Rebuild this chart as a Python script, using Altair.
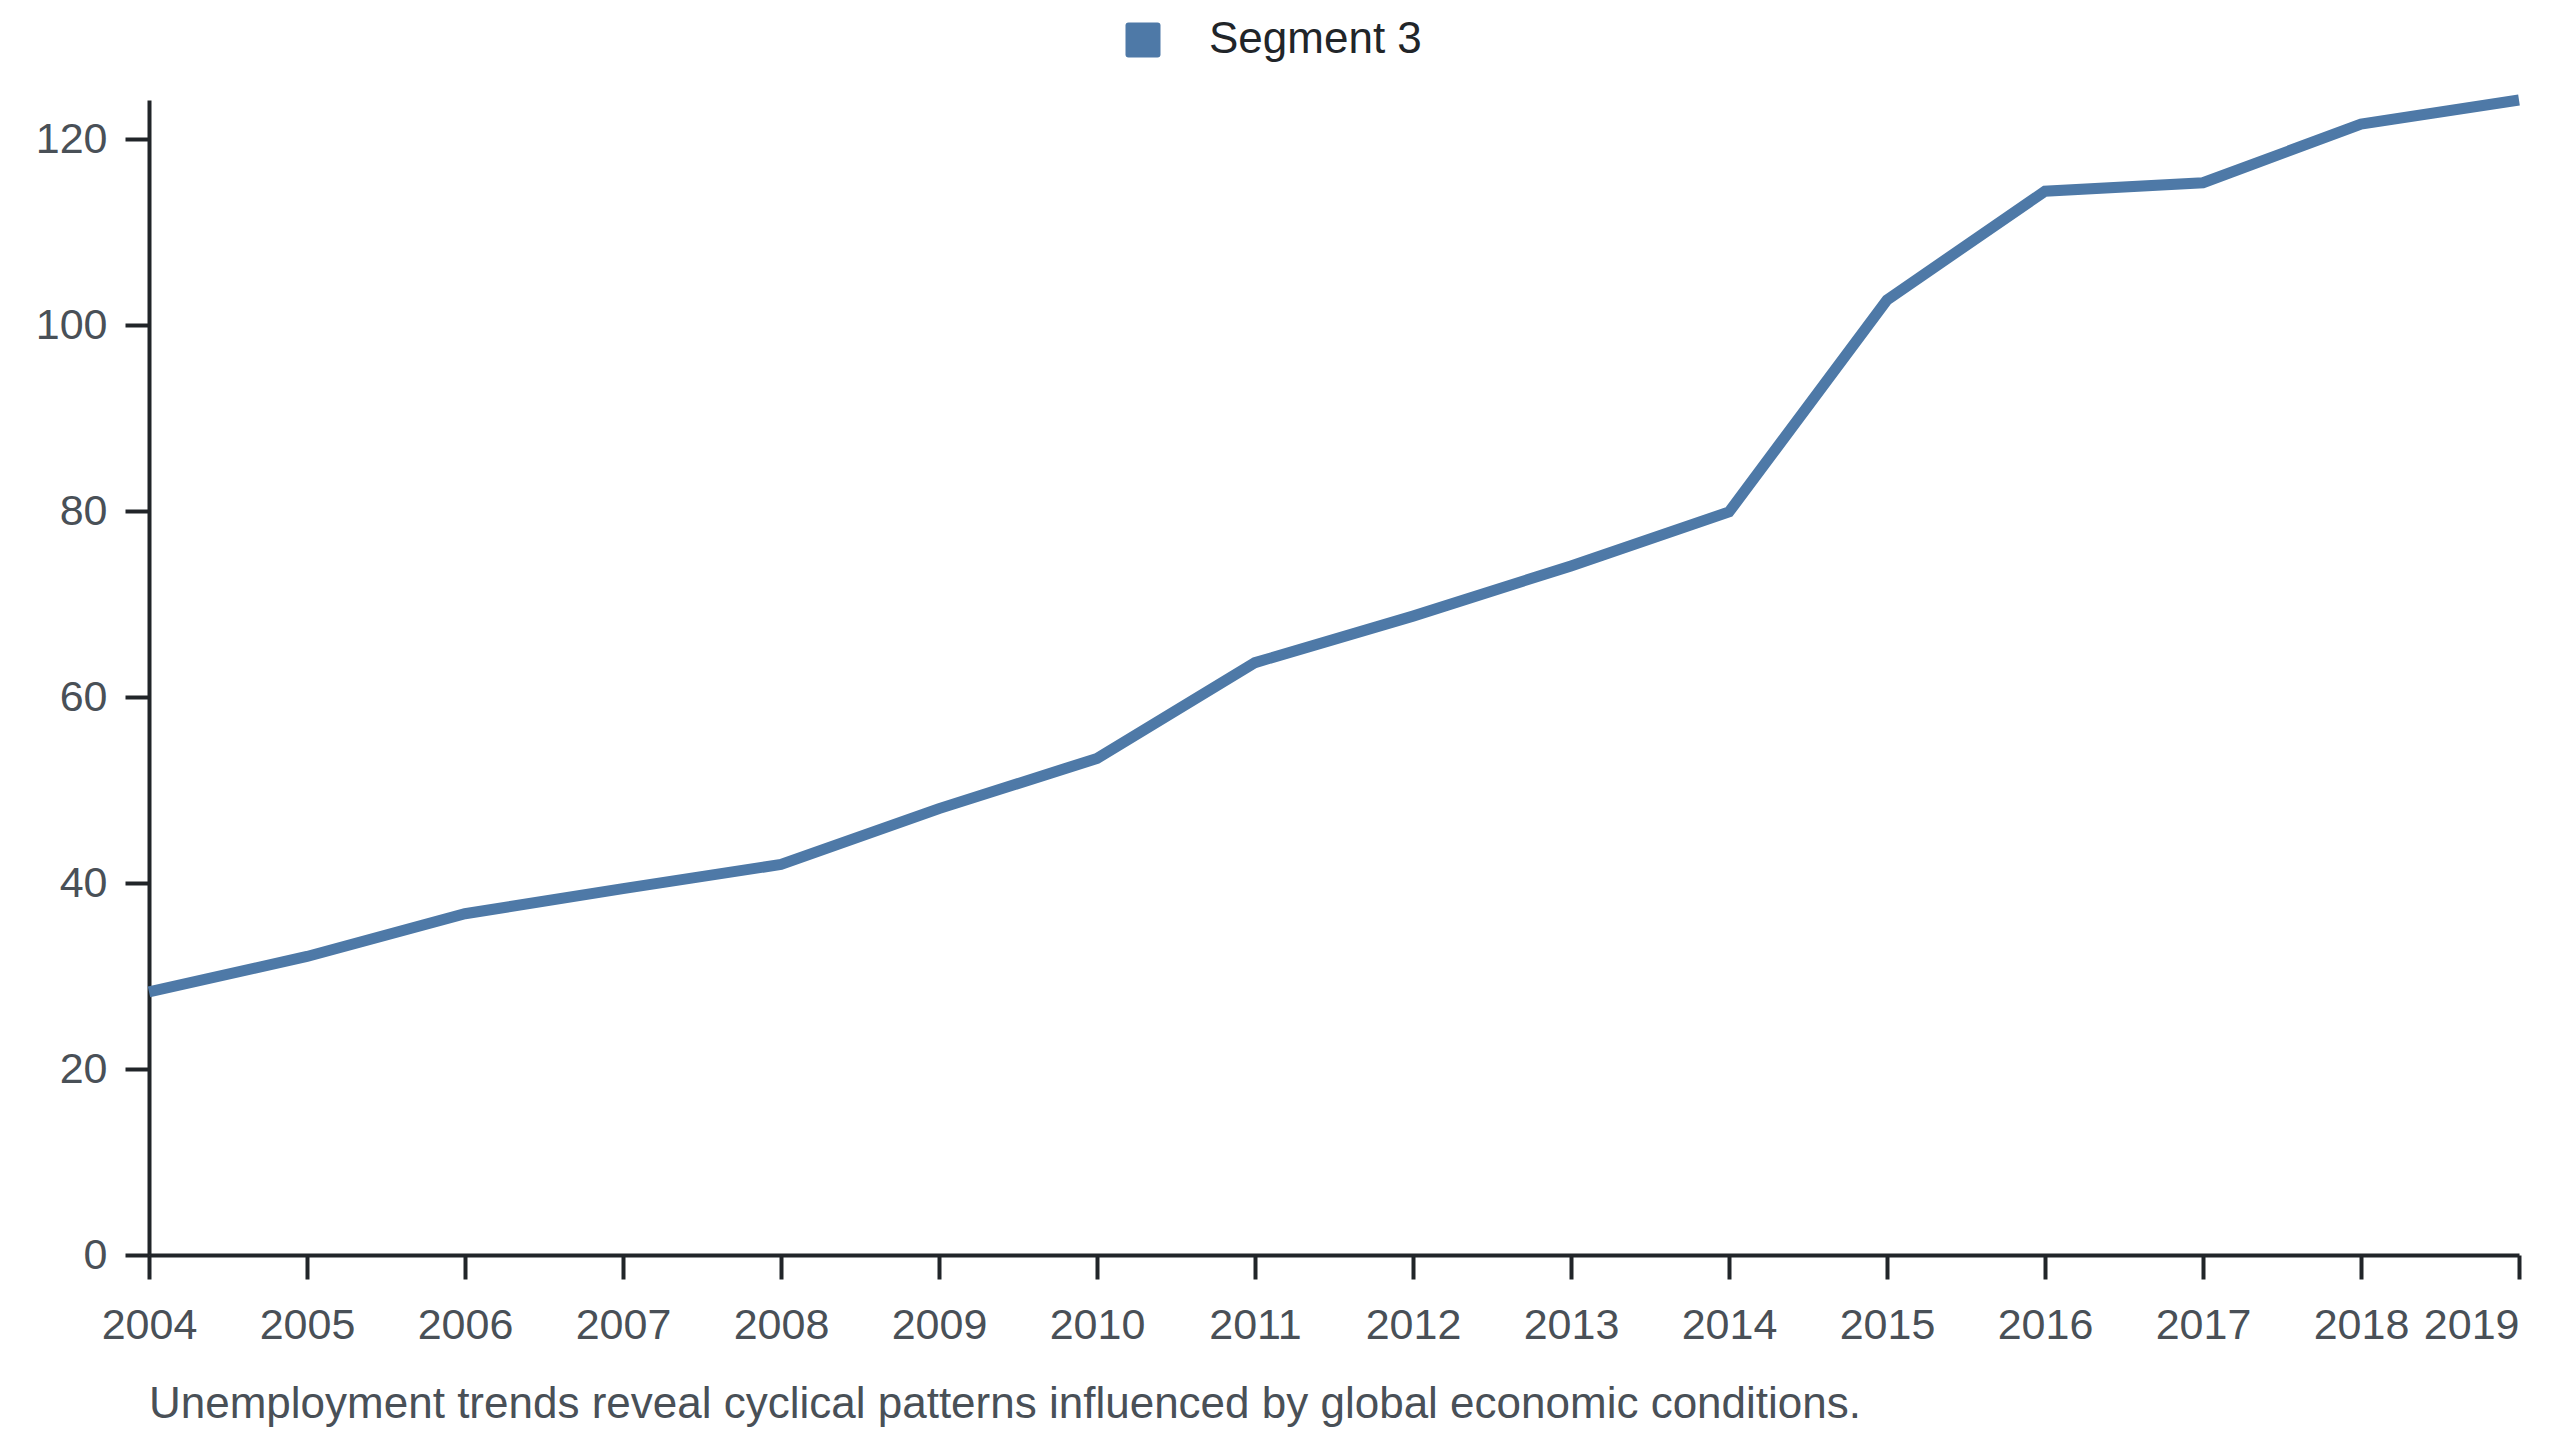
import altair as alt
import pandas as pd

years = [2004, 2005, 2006, 2007, 2008, 2009, 2010, 2011, 2012, 2013, 2014, 2015, 2016, 2017, 2018, 2019]
values = [28.3, 32.1, 36.7, 39.4, 42.0, 48.0, 53.4, 63.7, 68.7, 74.1, 79.9, 102.7, 114.4, 115.3, 121.6, 124.2]
series_name = "Segment 3"
caption = "Unemployment trends reveal cyclical patterns influenced by global economic conditions."
y_ticks = [0, 20, 40, 60, 80, 100, 120]

df = pd.DataFrame({"year": years, "value": values, "series": [series_name] * len(years)})

FONT = "Liberation Sans"
rounded_square = "M-0.83,-1H0.83Q1,-1,1,-0.83V0.83Q1,1,0.83,1H-0.83Q-1,1,-1,0.83V-0.83Q-1,-1,-0.83,-1Z"

line = alt.Chart(df).mark_line(strokeWidth=11, strokeJoin="miter", strokeCap="butt").encode(
    x=alt.X("year:Q",
            scale=alt.Scale(domain=[2004, 2019], nice=False, zero=False),
            axis=alt.Axis(values=years, format="d", title=None, grid=False,
                          labelAlign={"condition": {"test": "datum.value == 2019", "value": "right"}, "value": "center"},
                          labelFlush=False,
                          tickSize=24, tickWidth=4, domainWidth=4,
                          domainColor="#212529", tickColor="#212529",
                          labelFontSize=43, labelFont=FONT, labelColor="#495057",
                          labelPadding=25)),
    y=alt.Y("value:Q",
            scale=alt.Scale(domain=[0, max(values)], nice=False, zero=True),
            axis=alt.Axis(values=y_ticks, title=None, grid=False,
                          tickSize=24, tickWidth=4, domainWidth=4,
                          domainColor="#212529", tickColor="#212529",
                          labelFontSize=43, labelFont=FONT, labelColor="#495057",
                          labelPadding=18)),
    color=alt.Color("series:N",
                    scale=alt.Scale(range=["#4E79A7"]),
                    legend=alt.Legend(title=None, orient="none", legendX=972, legendY=-82,
                                      direction="horizontal",
                                      symbolType=rounded_square, symbolSize=1225,
                                      symbolFillColor="#4E79A7", symbolStrokeWidth=0,
                                      labelFontSize=44, labelFont=FONT, labelColor="#212529",
                                      labelOffset=44, labelLimit=0)),
).properties(
    width=2370,
    height=1155,
    title=alt.TitleParams(caption, orient="bottom", anchor="start", frame="group", fontSize=44,
                          font=FONT, fontWeight="normal", color="#495057", offset=36),
    autosize=alt.AutoSizeParams(type="none"),
    padding={"left": 141, "top": 92, "right": 33, "bottom": 176},
).configure_view(stroke=None)

chart = line
chart.save("out.html", embed_options={"renderer": "svg", "actions": False})
